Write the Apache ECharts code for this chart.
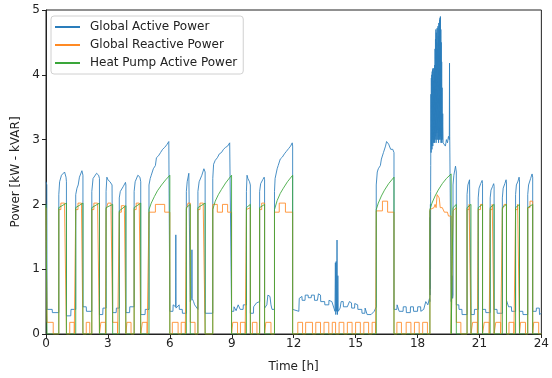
<!DOCTYPE html>
<html>
<head>
<meta charset="utf-8">
<script src="https://cdn.jsdelivr.net/npm/echarts@6/dist/echarts.min.js"></script>
<style>
  html, body { margin: 0; padding: 0; background: #fff; }
  #chart { width: 552px; height: 378px; }
</style>
</head>
<body>
<div id="chart"></div>
<script>
// time [h], value
const activePower = [
  [0.00,2.35],[0.04,2.30],[0.05,0.38],[0.30,0.38],[0.31,0.33],[0.62,0.33],
  [0.62,2.15],[0.66,2.35],[0.75,2.45],[0.90,2.50],[0.97,2.42],[0.99,2.35],[0.99,0.28],
  [1.20,0.28],[1.21,0.38],[1.44,0.38],
  [1.44,2.15],[1.50,2.25],[1.56,2.30],[1.62,2.42],[1.74,2.52],[1.79,2.45],[1.79,0.42],
  [1.95,0.42],[1.96,0.35],[2.22,0.35],
  [2.22,2.20],[2.28,2.40],[2.45,2.48],[2.55,2.45],[2.59,2.40],[2.59,0.30],
  [2.75,0.30],[2.76,0.40],[2.91,0.40],
  [2.91,2.20],[2.95,2.42],[3.00,2.38],[3.10,2.35],[3.20,2.30],[3.23,2.28],[3.23,0.33],
  [3.40,0.33],[3.41,0.40],[3.55,0.40],
  [3.55,2.10],[3.60,2.20],[3.75,2.28],[3.85,2.34],[3.87,2.30],[3.87,0.33],
  [4.05,0.33],[4.06,0.42],[4.27,0.42],
  [4.27,2.20],[4.32,2.35],[4.45,2.45],[4.55,2.42],[4.59,2.35],[4.59,0.30],
  [4.80,0.30],[4.81,0.38],[4.99,0.38],
  [4.99,2.30],[5.05,2.40],[5.10,2.45],[5.20,2.55],[5.30,2.60],[5.35,2.72],[5.45,2.75],[5.55,2.80],
  [5.65,2.85],[5.75,2.88],[5.85,2.92],[5.95,2.97],[6.00,2.95],[6.00,0.35],
  [6.15,0.35],[6.16,0.45],[6.28,0.42],[6.29,1.53],[6.30,0.40],[6.45,0.45],[6.46,0.38],[6.60,0.38],
  [6.61,0.32],[6.80,0.32],
  [6.80,2.20],[6.84,2.35],[6.92,2.48],[6.97,2.50],[6.99,2.45],[6.99,0.50],
  [7.06,0.55],[7.07,1.30],[7.08,0.55],[7.15,0.50],[7.20,0.45],[7.36,0.38],
  [7.36,2.20],[7.42,2.35],[7.55,2.45],[7.65,2.55],[7.71,2.50],[7.71,0.32],
  [8.08,0.32],
  [8.08,2.40],[8.12,2.62],[8.20,2.68],[8.30,2.72],[8.40,2.78],[8.50,2.80],[8.60,2.85],[8.70,2.88],
  [8.80,2.90],[8.90,2.95],[8.99,2.93],[8.99,0.35],
  [9.10,0.35],[9.11,0.42],[9.20,0.42],[9.21,0.36],[9.30,0.36],[9.31,0.45],[9.40,0.45],[9.41,0.38],
  [9.55,0.38],[9.56,0.45],[9.71,0.45],
  [9.71,2.20],[9.74,2.45],[9.78,2.40],[9.86,2.35],[9.90,2.30],[9.90,0.32],
  [10.05,0.32],[10.06,0.42],[10.20,0.48],[10.35,0.50],
  [10.35,2.20],[10.40,2.32],[10.50,2.38],[10.57,2.42],[10.59,2.38],[10.59,0.40],
  [10.70,0.45],[10.75,0.60],[10.85,0.58],[10.90,0.45],[10.95,0.38],[11.07,0.38],
  [11.07,2.20],[11.10,2.40],[11.20,2.55],[11.25,2.60],[11.35,2.70],[11.45,2.73],[11.55,2.78],
  [11.65,2.82],[11.75,2.86],[11.85,2.90],[11.93,2.95],[11.95,2.90],[11.95,0.38],
  [12.25,0.35],[12.27,0.55],[12.40,0.58],[12.41,0.52],[12.55,0.52],[12.56,0.60],[12.70,0.60],
  [12.71,0.56],[12.85,0.56],[12.86,0.60],[13.00,0.60],[13.01,0.52],[13.15,0.52],[13.20,0.62],
  [13.30,0.60],[13.31,0.50],[13.50,0.50],[13.51,0.45],[13.70,0.45],[13.71,0.52],[13.85,0.50],
  [13.95,0.40],[14.00,0.35],[14.02,1.10],[14.04,0.30],[14.06,1.12],[14.08,0.35],[14.10,1.45],
  [14.12,0.30],[14.14,0.90],[14.16,0.35],[14.25,0.40],[14.30,0.50],[14.40,0.50],[14.41,0.42],
  [14.60,0.42],[14.70,0.50],[14.80,0.48],[14.81,0.40],[14.95,0.40],[14.96,0.47],[15.10,0.45],
  [15.11,0.38],[15.30,0.38],[15.31,0.32],[15.45,0.32],[15.46,0.40],[15.55,0.38],[15.56,0.30],
  [15.75,0.30],[15.90,0.35],[16.00,0.42],
  [16.00,2.30],[16.05,2.50],[16.10,2.55],[16.20,2.60],[16.25,2.70],[16.35,2.80],[16.45,2.90],
  [16.50,2.97],[16.60,2.93],[16.70,2.85],[16.80,2.85],[16.86,2.80],[16.86,0.38],
  [17.00,0.38],[17.01,0.45],[17.10,0.45],[17.11,0.35],[17.30,0.35],[17.31,0.42],[17.45,0.42],
  [17.46,0.33],[17.65,0.33],[17.66,0.42],[17.80,0.42],[17.81,0.35],[18.00,0.35],[18.01,0.42],
  [18.15,0.42],[18.16,0.35],[18.30,0.38],[18.40,0.50],[18.50,0.45],[18.58,0.55],
  [18.60,0.50],[18.605,1.80],[18.61,0.60],[18.615,1.90],[18.62,0.70],[18.625,2.00],[18.63,1.00],
  [18.635,2.20],[18.64,2.60],[18.65,3.70],[18.66,2.80],[18.67,3.95],[18.68,2.90],[18.69,4.00],
  [18.70,2.85],[18.71,4.05],[18.72,3.00],[18.73,4.08],[18.74,2.90],[18.75,4.10],[18.76,3.05],
  [18.77,3.90],[18.78,2.95],[18.79,4.10],[18.80,3.00],[18.81,4.05],[18.82,2.95],[18.83,4.15],
  [18.84,3.10],[18.85,4.40],[18.86,3.00],[18.87,4.55],[18.88,3.05],[18.89,4.70],[18.90,2.95],
  [18.91,4.65],[18.92,3.10],[18.93,4.50],[18.94,3.00],[18.95,4.72],[18.96,3.15],[18.97,4.40],
  [18.98,3.00],[18.99,4.75],[19.00,3.10],[19.01,4.60],[19.02,2.95],[19.03,4.80],[19.04,3.05],
  [19.05,4.70],[19.06,3.00],[19.07,4.85],[19.08,3.10],[19.09,4.88],[19.10,3.00],[19.11,4.90],
  [19.12,3.05],[19.13,4.70],[19.14,2.95],[19.15,4.50],[19.16,3.00],[19.17,4.20],[19.18,2.95],
  [19.19,3.80],[19.20,3.00],[19.22,3.40],[19.24,2.95],
  [19.30,2.95],[19.35,2.90],[19.40,3.00],[19.45,2.95],[19.50,3.05],[19.54,3.00],[19.55,4.18],
  [19.56,3.05],[19.63,3.05],[19.63,0.50],
  [19.66,0.60],[19.68,0.90],[19.70,0.55],[19.72,0.60],
  [19.72,2.30],[19.76,2.45],[19.84,2.59],[19.88,2.50],[19.88,0.45],
  [20.00,0.45],[20.01,0.38],[20.15,0.38],[20.16,0.30],[20.40,0.30],
  [20.40,2.15],[20.44,2.30],[20.52,2.38],[20.57,2.40],[20.59,2.35],[20.59,0.30],
  [20.75,0.30],[20.76,0.38],[20.94,0.38],
  [20.94,2.10],[20.98,2.25],[21.06,2.32],[21.13,2.37],[21.15,2.32],[21.15,0.38],
  [21.30,0.38],[21.31,0.33],[21.52,0.33],
  [21.52,2.10],[21.56,2.22],[21.64,2.28],[21.69,2.32],[21.71,2.28],[21.71,0.38],
  [21.85,0.38],[21.86,0.32],[22.11,0.32],
  [22.11,2.10],[22.15,2.25],[22.23,2.32],[22.29,2.38],[22.31,2.33],[22.31,0.52],
  [22.40,0.50],[22.41,0.42],[22.55,0.42],[22.56,0.35],[22.75,0.35],
  [22.75,2.15],[22.79,2.30],[22.87,2.36],[22.92,2.42],[22.94,2.38],[22.94,0.35],
  [23.10,0.35],[23.11,0.30],[23.34,0.30],
  [23.34,2.15],[23.38,2.30],[23.48,2.40],[23.55,2.47],[23.58,2.42],[23.58,0.35],
  [23.75,0.35],[23.76,0.40],[23.90,0.40],[23.91,0.30],[24.00,0.32]
];

const reactivePower = [
  [0.00,1.95],[0.05,1.95],[0.05,0.18],[0.35,0.18],[0.35,0],[0.62,0],
  [0.62,1.92],[0.72,1.92],[0.72,2.02],[0.90,2.02],[0.90,1.93],[0.99,1.93],[0.99,0],
  [1.15,0],[1.15,0.18],[1.37,0.18],[1.37,0],[1.44,0],
  [1.44,1.92],[1.55,1.92],[1.55,2.02],[1.72,2.02],[1.72,1.93],[1.79,1.93],[1.79,0],
  [1.95,0],[1.95,0.18],[2.12,0.18],[2.12,0],[2.22,0],
  [2.22,1.92],[2.32,1.92],[2.32,2.02],[2.50,2.02],[2.50,1.93],[2.59,1.93],[2.59,0],
  [2.66,0],[2.66,0.18],[2.88,0.18],[2.88,0],[2.91,0],
  [2.91,1.92],[3.00,1.92],[3.00,2.02],[3.15,2.02],[3.15,1.90],[3.23,1.90],[3.23,0.18],
  [3.47,0.18],[3.47,0],[3.55,0],
  [3.55,1.88],[3.65,1.88],[3.65,1.98],[3.80,1.98],[3.80,1.90],[3.87,1.90],[3.87,0],
  [3.92,0],[3.92,0.18],[4.12,0.18],[4.12,0],[4.27,0],
  [4.27,1.92],[4.37,1.92],[4.37,2.02],[4.52,2.02],[4.52,1.93],[4.59,1.93],[4.59,0],
  [4.67,0],[4.67,0.18],[4.90,0.18],[4.90,0],[4.99,0],
  [4.99,1.88],[5.30,1.88],[5.30,2.00],[5.75,2.00],[5.75,1.88],[6.00,1.88],[6.00,0],
  [6.12,0],[6.12,0.18],[6.40,0.18],[6.40,0],[6.55,0],[6.55,0.18],[6.75,0.18],[6.75,0],[6.80,0],
  [6.80,1.92],[6.88,1.92],[6.88,2.02],[6.99,2.02],[6.99,0.18],[7.22,0.18],[7.22,0],[7.36,0],
  [7.36,1.92],[7.46,1.92],[7.46,2.02],[7.62,2.02],[7.62,1.93],[7.71,1.93],[7.71,0],
  [8.08,0],
  [8.08,2.00],[8.30,2.00],[8.30,1.88],[8.55,1.88],[8.55,2.00],[8.80,2.00],[8.80,1.88],[8.99,1.88],[8.99,0],
  [9.05,0],[9.05,0.18],[9.28,0.18],[9.28,0],[9.42,0],[9.42,0.18],[9.65,0.18],[9.65,0],[9.71,0],
  [9.71,1.92],[9.90,1.95],[9.90,0],
  [10.00,0],[10.00,0.18],[10.22,0.18],[10.22,0],[10.35,0],
  [10.35,1.92],[10.45,1.92],[10.45,2.02],[10.59,2.02],[10.59,0],
  [10.65,0],[10.65,0.18],[10.90,0.18],[10.90,0],[11.07,0],
  [11.07,1.88],[11.30,1.88],[11.30,2.02],[11.60,2.02],[11.60,1.88],[11.95,1.88],[11.95,0],
  [12.20,0],[12.20,0.18],[12.43,0.18],[12.43,0],[12.58,0],[12.58,0.18],[12.91,0.18],[12.91,0],
  [13.07,0],[13.07,0.18],[13.30,0.18],[13.30,0],[13.47,0],[13.47,0.18],[13.70,0.18],[13.70,0],
  [13.87,0],[13.87,0.18],[14.03,0.18],[14.03,0],[14.20,0],[14.20,0.18],[14.43,0.18],[14.43,0],
  [14.60,0],[14.60,0.18],[14.83,0.18],[14.83,0],[15.00,0],[15.00,0.18],[15.23,0.18],[15.23,0],
  [15.40,0],[15.40,0.18],[15.63,0.18],[15.63,0],[15.80,0],[15.80,0.18],[15.97,0.18],[15.97,0],[16.00,0],
  [16.00,1.90],[16.30,1.90],[16.30,2.05],[16.55,2.05],[16.55,1.88],[16.86,1.88],[16.86,0],
  [17.00,0],[17.00,0.18],[17.22,0.18],[17.22,0],[17.45,0],[17.45,0.18],[17.68,0.18],[17.68,0],
  [17.85,0],[17.85,0.18],[18.08,0.18],[18.08,0],[18.25,0],[18.25,0.18],[18.48,0.18],[18.48,0],[18.60,0],
  [18.60,1.92],[18.80,1.95],[18.85,2.00],[18.90,1.95],[18.95,2.15],[19.05,2.10],[19.10,1.95],
  [19.20,1.95],[19.30,1.88],[19.45,1.88],[19.50,1.82],[19.63,1.82],[19.63,0],[19.72,0],
  [19.72,1.90],[19.88,1.95],[19.88,0.18],[20.10,0.18],[20.10,0],[20.40,0],
  [20.40,1.92],[20.50,1.92],[20.50,2.00],[20.59,2.00],[20.59,0],
  [20.67,0],[20.67,0.18],[20.90,0.18],[20.90,0],[20.94,0],
  [20.94,1.92],[21.05,1.92],[21.05,2.00],[21.15,2.00],[21.15,0],
  [21.23,0],[21.23,0.18],[21.47,0.18],[21.47,0],[21.52,0],
  [21.52,1.92],[21.62,1.92],[21.62,2.00],[21.71,2.00],[21.71,0],
  [21.79,0],[21.79,0.18],[22.03,0.18],[22.03,0],[22.11,0],
  [22.11,1.92],[22.20,1.92],[22.20,2.00],[22.31,2.00],[22.31,0],
  [22.43,0],[22.43,0.18],[22.67,0.18],[22.67,0],[22.75,0],
  [22.75,1.92],[22.85,1.92],[22.85,2.00],[22.94,2.00],[22.94,0],
  [22.99,0],[22.99,0.18],[23.23,0.18],[23.23,0],[23.34,0],
  [23.34,1.95],[23.45,1.95],[23.45,2.05],[23.58,2.05],[23.58,0],
  [23.63,0],[23.63,0.18],[23.87,0.18],[23.87,0],[24.00,0]
];

const heatPumpPower = [
  [0.00,2.00],[0.05,2.00],[0.05,0],[0.62,0],
  [0.62,1.95],[0.99,2.02],[0.99,0],[1.44,0],
  [1.44,1.95],[1.79,2.02],[1.79,0],[2.22,0],
  [2.22,1.95],[2.59,2.02],[2.59,0],[2.91,0],
  [2.91,1.95],[3.23,2.00],[3.23,0],[3.55,0],
  [3.55,1.90],[3.87,1.98],[3.87,0],[4.27,0],
  [4.27,1.95],[4.59,2.02],[4.59,0],[4.99,0],
  [4.99,1.92],[5.10,2.02],[5.25,2.12],[5.40,2.21],[5.60,2.30],[5.80,2.38],[6.00,2.45],[6.00,0],[6.80,0],
  [6.80,1.95],[6.99,2.00],[6.99,0],[7.36,0],
  [7.36,1.95],[7.71,2.02],[7.71,0],[8.08,0],
  [8.08,1.92],[8.20,2.05],[8.35,2.15],[8.50,2.23],[8.70,2.33],[8.99,2.45],[8.99,0],[9.71,0],
  [9.71,1.95],[9.90,2.00],[9.90,0],[10.35,0],
  [10.35,1.95],[10.59,2.00],[10.59,0],[11.07,0],
  [11.07,1.92],[11.20,2.06],[11.35,2.17],[11.50,2.25],[11.70,2.35],[11.95,2.45],[11.95,0],[16.00,0],
  [16.00,1.92],[16.10,2.02],[16.25,2.13],[16.40,2.22],[16.60,2.32],[16.86,2.42],[16.86,0],[18.60,0],
  [18.60,1.92],[18.70,2.02],[18.85,2.13],[19.00,2.22],[19.20,2.32],[19.40,2.40],[19.63,2.47],[19.63,0],[19.72,0],
  [19.72,1.95],[19.88,2.00],[19.88,0],[20.40,0],
  [20.40,1.95],[20.59,2.00],[20.59,0],[20.94,0],
  [20.94,1.95],[21.15,2.00],[21.15,0],[21.52,0],
  [21.52,1.95],[21.71,2.00],[21.71,0],[22.11,0],
  [22.11,1.95],[22.31,2.00],[22.31,0],[22.75,0],
  [22.75,1.95],[22.94,2.00],[22.94,0],[23.34,0],
  [23.34,1.95],[23.58,2.00],[23.58,0],[24.00,0]
];

const seriesNames = ['Global Active Power', 'Global Reactive Power', 'Heat Pump Active Power'];
const xTicks = [0, 3, 6, 9, 12, 15, 18, 21, 24];
const yTicks = [0, 1, 2, 3, 4, 5];

const font = 'DejaVu Sans';
const colors = ['#2a7dbb', '#ff8a24', '#3aa63a'];
const chart = echarts.init(document.getElementById('chart'), null, { renderer: 'canvas' });

const line = (name, data, color) => ({
  name, type: 'line', data,
  showSymbol: false, symbol: 'none', sampling: null,
  lineStyle: { width: 1, color, opacity: 0.85 },
  itemStyle: { color },
  emphasis: { disabled: true }
});

chart.setOption({
  animation: false,
  textStyle: { fontFamily: font },
  grid: {
    left: 46, right: 6, top: 10, bottom: 43,
    show: true, borderColor: '#222', borderWidth: 1, backgroundColor: 'transparent'
  },
  legend: {
    orient: 'vertical', left: 51, top: 16,
    padding: [4, 6, 4, 4], itemGap: 4,
    itemWidth: 25, itemHeight: 2, icon: 'rect',
    backgroundColor: 'rgba(255,255,255,0.85)',
    borderColor: '#d0d0d0', borderWidth: 1, borderRadius: 3,
    textStyle: { fontFamily: font, fontSize: 12, color: '#222', lineHeight: 14, padding: [0, 0, 0, 5] },
    data: seriesNames
  },
  xAxis: {
    type: 'value', min: 0, max: 24, interval: 3,
    name: 'Time [h]', nameLocation: 'middle', nameGap: 27,
    nameTextStyle: { fontFamily: font, fontSize: 12, color: '#222' },
    axisLine: { show: true, onZero: false, lineStyle: { color: '#222' } },
    axisTick: { show: true, length: 4, lineStyle: { color: '#222' } },
    axisLabel: { fontFamily: font, fontSize: 12, color: '#222', margin: 4,
      customValues: xTicks },
    splitLine: { show: false }
  },
  yAxis: {
    type: 'value', min: 0, max: 5, interval: 1,
    name: 'Power [kW - kVAR]', nameLocation: 'middle', nameGap: 23,
    nameTextStyle: { fontFamily: font, fontSize: 12, color: '#222' },
    axisLine: { show: true, lineStyle: { color: '#222' } },
    axisTick: { show: true, length: 4, lineStyle: { color: '#222' } },
    axisLabel: { fontFamily: font, fontSize: 12, color: '#222', margin: 6,
      customValues: yTicks },
    splitLine: { show: false }
  },
  series: [
    line(seriesNames[0], activePower, colors[0]),
    line(seriesNames[1], reactivePower, colors[1]),
    line(seriesNames[2], heatPumpPower, colors[2])
  ]
});
</script>
</body>
</html>
